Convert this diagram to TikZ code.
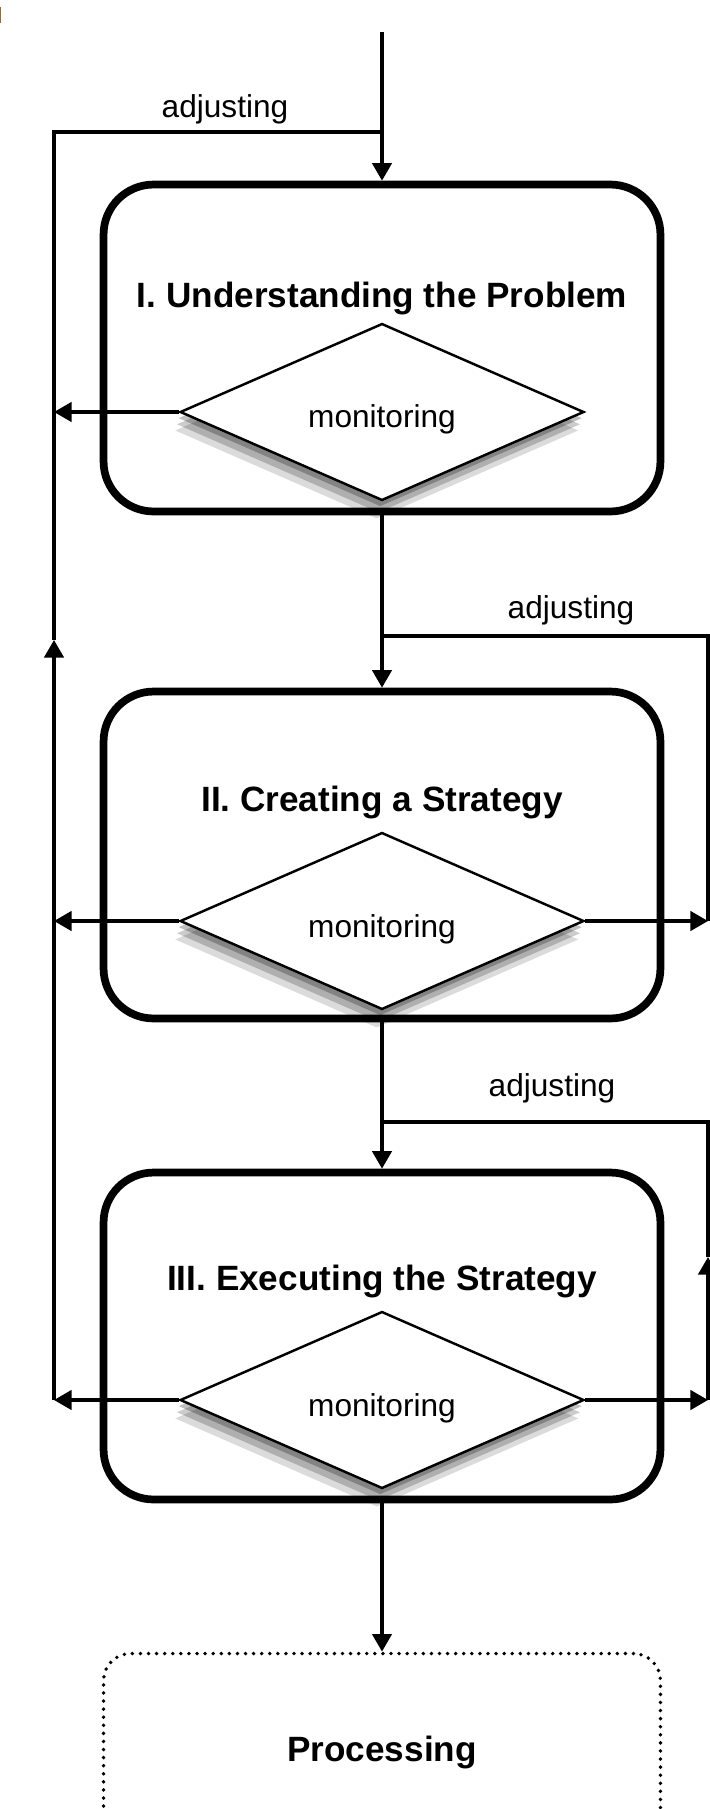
\documentclass[tikz,border=0pt]{standalone}
\usepackage{fontspec}
\setmainfont{Liberation Sans}
\usepackage{tikz}
\usetikzlibrary{arrows.meta,shapes.geometric,shadows}
\definecolor{scanmark}{RGB}{150,110,50}

\begin{document}
\begin{tikzpicture}[x=0.02cm,y=-0.02cm,>={Triangle[length=10pt,width=11pt]},
  flow/.style={line width=1.9pt},
  stage/.style={draw,rounded corners=1cm,line width=4.4pt,minimum width=11.14cm,minimum height=6.54cm},
  process/.style={stage,line width=2.2pt,dash pattern=on 0pt off 4.6pt,line cap=round,rounded corners=0.54cm},
  check/.style={draw,diamond,aspect=2.3,inner sep=0pt,fill=white,line width=1.4pt,
    minimum width=8.08cm,minimum height=3.54cm,font=\fontsize{18}{21}\selectfont,
    text height=22pt,text depth=3.8pt,
    drop shadow={shadow xshift=-1pt,shadow yshift=-3.5pt,fill=black,opacity=.25},
    drop shadow={shadow xshift=-2pt,shadow yshift=-7pt,fill=black,opacity=.2},
    drop shadow={shadow xshift=-3pt,shadow yshift=-10.5pt,fill=black,opacity=.14}},
  stagetitle/.style={font=\fontsize{20}{24}\selectfont\bfseries},
  adjlabel/.style={font=\fontsize{18}{21}\selectfont}]
  \useasboundingbox (0,0) rectangle (710,1809);
  \clip (0,0) rectangle (710,1809);
  \fill[scanmark] (0,7) rectangle (1.3,23);

  % the three stages and the processing box
  \node[stage] (b1) at (382,348) {};
  \node[stage] (b2) at (382,855) {};
  \node[stage] (b3) at (382,1336) {};
  \node[process] (b4) at (382,1817) {};
  \node[stagetitle] (t1) at (382,298) {I. Understanding the Problem};
  \node[stagetitle] (t2) at (382,802) {II. Creating a Strategy};
  \node[stagetitle] (t3) at (382,1281) {III. Executing the Strategy};
  \node[stagetitle] (t4) at (382,1752) {Processing};
  \node[check] (d1) at (382,412) {monitoring};
  \node[check] (d2) at (382,921) {monitoring};
  \node[check] (d3) at (382,1400) {monitoring};

  % helper points of the loops
  \coordinate (start) at (382,32);
  \coordinate (back) at (54,132);
  \coordinate (up1) at (54,640);
  \coordinate (rr1) at (708,636);
  \coordinate (rr2) at (708,1122);
  \coordinate (up2) at (708,1257);

  % main flow
  \draw[flow,->] (start) -- (b1.north);
  \draw[flow,->] (b1.south) -- (b2.north);
  \draw[flow,->] (b2.south) -- (b3.north);
  \draw[flow,->] (b3.south) -- (b4.north);

  % left loop
  \draw[flow,->] (d1.west) -- (d1.west -| back);
  \draw[flow,->] (d2.west) -- (d2.west -| back);
  \draw[flow,->] (d3.west) -- (d3.west -| back);
  \draw[flow,->] (d3.west -| back) -- (up1);
  \draw[flow] (up1) -- (back) -- (start |- back);
  \node[adjlabel] (a1) at (225,109) {adjusting};

  % right loops
  \draw[flow,->] (d2.east) -- (d2.east -| rr1);
  \draw[flow] (d2.east -| rr1) -- (rr1) -- (b1.south |- rr1);
  \node[adjlabel] (a2) at (571,610) {adjusting};
  \draw[flow,->] (d3.east) -- (d3.east -| rr2);
  \draw[flow,->] (d3.east -| rr2) -- (up2);
  \draw[flow] (up2) -- (rr2) -- (b2.south |- rr2);
  \node[adjlabel] (a3) at (552,1088) {adjusting};
\end{tikzpicture}
\end{document}
